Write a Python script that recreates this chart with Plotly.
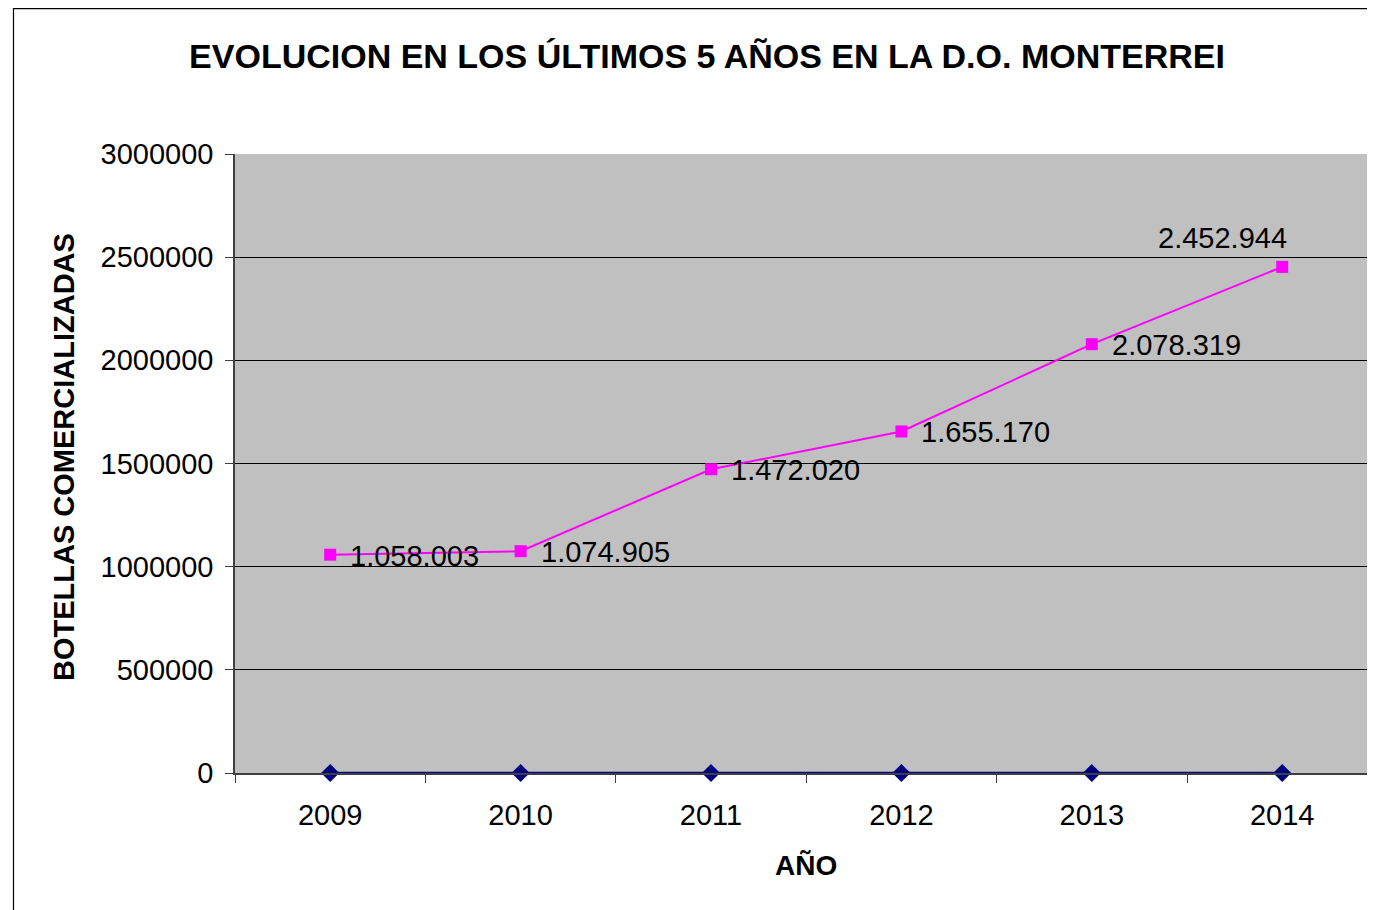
import plotly.graph_objects as go

years = ["2009", "2010", "2011", "2012", "2013", "2014"]
botellas = [1058003, 1074905, 1472020, 1655170, 2078319, 2452944]
serie_cero = [0, 0, 0, 0, 0, 0]
y_ticks = [0, 500000, 1000000, 1500000, 2000000, 2500000, 3000000]

title_text = "EVOLUCION EN LOS ÚLTIMOS 5 AÑOS EN LA D.O. MONTERREI"
x_title = "AÑO"
y_title = "BOTELLAS COMERCIALIZADAS"

FONT = "Arial, Liberation Sans, sans-serif"

# page body has an 8px margin: figure is drawn 8px right/down
W, H = 1367, 902
PL, PT = 227, 146
PW = W - PL          # plot width 1140
PH = 619             # plot height
PB = H - PT - PH
STEP = 190.4


def fmt(v):
    return f"{v:,}".replace(",", ".")


fig = go.Figure()
fig.add_trace(go.Scatter(
    x=years, y=serie_cero, mode="lines+markers",
    line=dict(color="#000080", width=2.5),
    marker=dict(symbol="diamond", size=14, color="#000080"),
    cliponaxis=False, showlegend=False, hoverinfo="skip",
))
fig.add_trace(go.Scatter(
    x=years, y=botellas, mode="lines+markers",
    line=dict(color="#FF00FF", width=2),
    marker=dict(symbol="square", size=12, color="#FF00FF"),
    cliponaxis=False, showlegend=False,
))

annotations = []
for i, v in enumerate(botellas):
    if i == len(botellas) - 1:
        annotations.append(dict(x=i, y=v, xref="x", yref="y", text=fmt(v),
                                showarrow=False, xanchor="center", yanchor="middle",
                                xshift=-60, yshift=29,
                                font=dict(family=FONT, size=29, color="black")))
    else:
        annotations.append(dict(x=i, y=v, xref="x", yref="y", text=fmt(v),
                                showarrow=False, xanchor="left", yanchor="middle",
                                xshift=18, yshift=-1,
                                font=dict(family=FONT, size=29, color="black")))

annotations.append(dict(x=(806 - 235) / PW, y=(773 - 865) / PH, xref="paper", yref="paper",
                        text=f"<b>{x_title}</b>", showarrow=False,
                        xanchor="center", yanchor="middle",
                        font=dict(family=FONT, size=28, color="black")))
annotations.append(dict(x=(64 - 235) / PW, y=(773 - 457) / PH, xref="paper", yref="paper",
                        text=f"<b>{y_title}</b>", showarrow=False, textangle=-90,
                        xanchor="center", yanchor="middle",
                        font=dict(family=FONT, size=29, color="black")))

fig.update_layout(
    width=W, height=H,
    margin=dict(l=PL, r=0, t=PT, b=PB, pad=0),
    paper_bgcolor="white",
    plot_bgcolor="#C0C0C0",
    title=dict(text=f"<b>{title_text}</b>", x=699 / W, xanchor="center",
               xref="container", yref="container", y=1 - 48 / H, yanchor="middle",
               font=dict(family=FONT, size=34, color="black")),
    annotations=annotations,
    shapes=[dict(type="rect", xref="paper", yref="paper",
                 x0=(13.5 - 235) / PW, x1=1.2, y0=-0.5, y1=(773 - 8.6) / PH,
                 line=dict(color="black", width=1.2), fillcolor="rgba(0,0,0,0)", layer="below")],
    font=dict(family=FONT, color="black"),
)

fig.update_xaxes(
    type="category", range=[-0.5, -0.5 + PW / STEP],
    showgrid=False, showline=True, linecolor="#404040", linewidth=1.5,
    ticks="outside", ticklen=8, tickcolor="#404040", tickson="boundaries",
    tickfont=dict(family=FONT, size=29, color="black"), ticklabelstandoff=15,
    zeroline=False,
)
fig.update_yaxes(
    range=[0, 3000000], tickmode="array", tickvals=y_ticks,
    ticktext=[str(v) for v in y_ticks],
    showgrid=True, gridcolor="black", gridwidth=1,
    showline=True, linecolor="#404040", linewidth=1.5,
    ticks="outside", ticklen=8, tickcolor="#404040",
    tickfont=dict(family=FONT, size=29, color="black"), ticklabelstandoff=6,
    zeroline=False,
)

fig.write_html("out.html")
